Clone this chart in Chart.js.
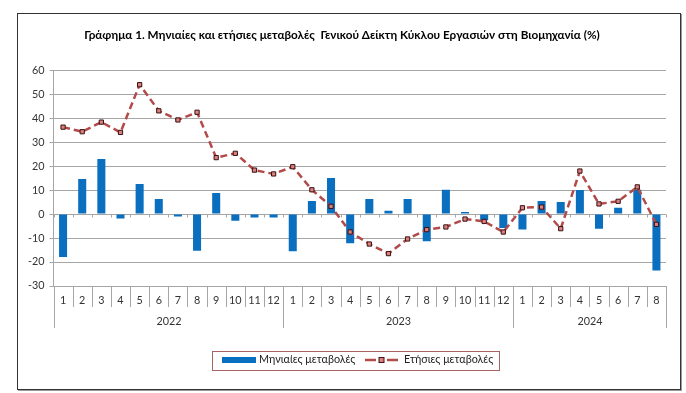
<!DOCTYPE html>
<html lang="el">
<head>
<meta charset="utf-8">
<title>Γράφημα 1</title>
<script src="https://cdn.jsdelivr.net/npm/chart.js@4.4.0/dist/chart.umd.min.js"></script>
<style>
  html, body { margin: 0; padding: 0; background: #fff; }
  #marco {
    position: absolute; left: 17px; top: 13px;
    width: 662px; height: 375px;
    border: 1px solid #333;
    box-shadow: 1px 1px 0 #999;
  }
  canvas { display: block; }
</style>
</head>
<body>
<div id="marco"><canvas id="grafica"></canvas></div>
<script>
// Datos del gráfico
const meses = ['1','2','3','4','5','6','7','8','9','10','11','12',
               '1','2','3','4','5','6','7','8','9','10','11','12',
               '1','2','3','4','5','6','7','8'];
const anios = ['2022', '2023', '2024'];
const mesesPorAnio = [12, 12, 8];

const mensuales = [-17.9, 14.6, 22.9, -1.9, 12.5, 6.3, -1.0, -15.3, 8.8, -2.8, -1.5, -1.5,
                   -15.5, 5.4, 15.0, -12.2, 6.3, 1.4, 6.3, -11.4, 10.1, 0.8, -2.6, -5.8,
                   -6.5, 5.4, 5.0, 10.0, -6.1, 2.6, 10.1, -23.5];
const anuales = [36.2, 34.3, 38.3, 34.0, 53.9, 43.0, 39.2, 42.4, 23.5, 25.3, 18.3, 16.7,
                 19.7, 10.1, 3.2, -7.5, -12.5, -16.5, -10.4, -6.5, -5.4, -2.1, -3.1, -7.5,
                 2.6, 2.9, -6.1, 17.9, 4.2, 5.3, 11.3, -4.3];

const etiquetasSeries = ['Μηνιαίες μεταβολές', 'Ετήσιες μεταβολές'];
const titulo = 'Γράφημα 1. Μηνιαίες και ετήσιες μεταβολές  Γενικού Δείκτη Κύκλου Εργασιών στη Βιομηχανία (%)';

const AZUL = '#0b6fbf';
const ROJO = '#b34a4a';
const GRIS = '#a6a6a6';
const FUENTE = 'Lato, "Open Sans", sans-serif';
const TAM = 10.8;

// Eje de categorías en dos niveles (mes / año) y leyenda con marco
const ejeCategorias = {
  id: 'ejeCategorias',
  afterDraw(chart) {
    const ctx = chart.ctx;
    const x = chart.scales.x;
    const y = chart.scales.y;
    const area = chart.chartArea;
    const w = x.getPixelForValue(1) - x.getPixelForValue(0);
    const borde = i => Math.round(x.getPixelForValue(i) - w / 2) + 0.5;
    const y0 = Math.round(y.getPixelForValue(0)) + 0.5;

    // límites de años
    const cortes = [0];
    mesesPorAnio.forEach(n => cortes.push(cortes[cortes.length - 1] + n));

    ctx.save();
    ctx.strokeStyle = GRIS;
    ctx.lineWidth = 1;
    for (let i = 0; i <= meses.length; i++) {
      const xb = borde(i);
      const largo = cortes.includes(i) ? 42 : 21;
      ctx.beginPath();
      ctx.moveTo(xb, area.bottom);
      ctx.lineTo(xb, area.bottom + largo);
      ctx.stroke();
      // marcas pequeñas sobre el eje del cero
      ctx.beginPath();
      ctx.moveTo(xb, y0);
      ctx.lineTo(xb, y0 + 3);
      ctx.stroke();
    }

    ctx.fillStyle = '#333';
    ctx.font = TAM + 'px ' + FUENTE;
    ctx.textAlign = 'center';
    ctx.textBaseline = 'middle';
    meses.forEach((m, i) => {
      ctx.fillText(m, x.getPixelForValue(i), area.bottom + 15);
    });
    anios.forEach((a, k) => {
      const xc = (borde(cortes[k]) + borde(cortes[k + 1])) / 2;
      ctx.fillText(a, xc, area.bottom + 36);
    });

    // leyenda
    const cx = chart.width / 2;
    const ly = area.bottom + 64.5;
    const lm = ly + 9.5;
    ctx.strokeStyle = '#a86464';
    ctx.strokeRect(Math.round(cx - 137) + 0.5, Math.round(ly) + 0.5, 287, 19);

    ctx.fillStyle = AZUL;
    ctx.fillRect(cx - 127, lm - 3, 34, 6);

    ctx.strokeStyle = ROJO;
    ctx.lineWidth = 2.5;
    ctx.beginPath();
    ctx.moveTo(cx + 16, lm); ctx.lineTo(cx + 27, lm);
    ctx.moveTo(cx + 38, lm); ctx.lineTo(cx + 49, lm);
    ctx.stroke();
    ctx.fillStyle = '#d98080';
    ctx.strokeStyle = '#3a1010';
    ctx.lineWidth = 1;
    ctx.fillRect(cx + 30, lm - 2.5, 5, 5);
    ctx.strokeRect(cx + 30, lm - 2.5, 5, 5);

    ctx.fillStyle = '#222';
    ctx.textAlign = 'left';
    ctx.fillText(etiquetasSeries[0], cx - 90, lm);
    ctx.fillText(etiquetasSeries[1], cx + 55, lm);
    ctx.restore();
  }
};

const ctx = document.getElementById('grafica').getContext('2d');
window.grafica = new Chart(ctx, {
  type: 'bar',
  data: {
    labels: meses,
    datasets: [{
      type: 'line',
      label: etiquetasSeries[1],
      data: anuales,
      borderColor: ROJO,
      borderWidth: 2.5,
      borderDash: [7, 4],
      tension: 0,
      pointStyle: 'rect',
      pointRadius: 3,
      pointBackgroundColor: '#d98080',
      pointBorderColor: '#3a1010',
      pointBorderWidth: 1,
      order: 0
    }, {
      type: 'bar',
      label: etiquetasSeries[0],
      data: mensuales,
      backgroundColor: AZUL,
      categoryPercentage: 1,
      barPercentage: 0.42,
      order: 1
    }]
  },
  options: {
    responsive: true,
    maintainAspectRatio: false,
    animation: false,
    layout: { padding: { right: 14 } },
    plugins: {
      legend: { display: false },
      tooltip: { enabled: false },
      title: {
        display: true,
        text: titulo,
        color: '#000',
        font: { family: FUENTE, size: 11.7, weight: 'bold' },
        padding: { top: 14.5, bottom: 27.5 }
      }
    },
    scales: {
      x: {
        offset: true,
        ticks: { display: false },
        grid: { display: false },
        border: { display: false },
        afterFit(scale) { scale.height = 103; }
      },
      y: {
        min: -30,
        max: 60,
        ticks: {
          stepSize: 10,
          color: '#333',
          padding: 5,
          font: { family: FUENTE, size: TAM }
        },
        grid: { color: GRIS, tickLength: 4 },
        border: { color: GRIS },
        afterFit(scale) { scale.width = 35.5; }
      }
    }
  },
  plugins: [ejeCategorias]
});
</script>
</body>
</html>
